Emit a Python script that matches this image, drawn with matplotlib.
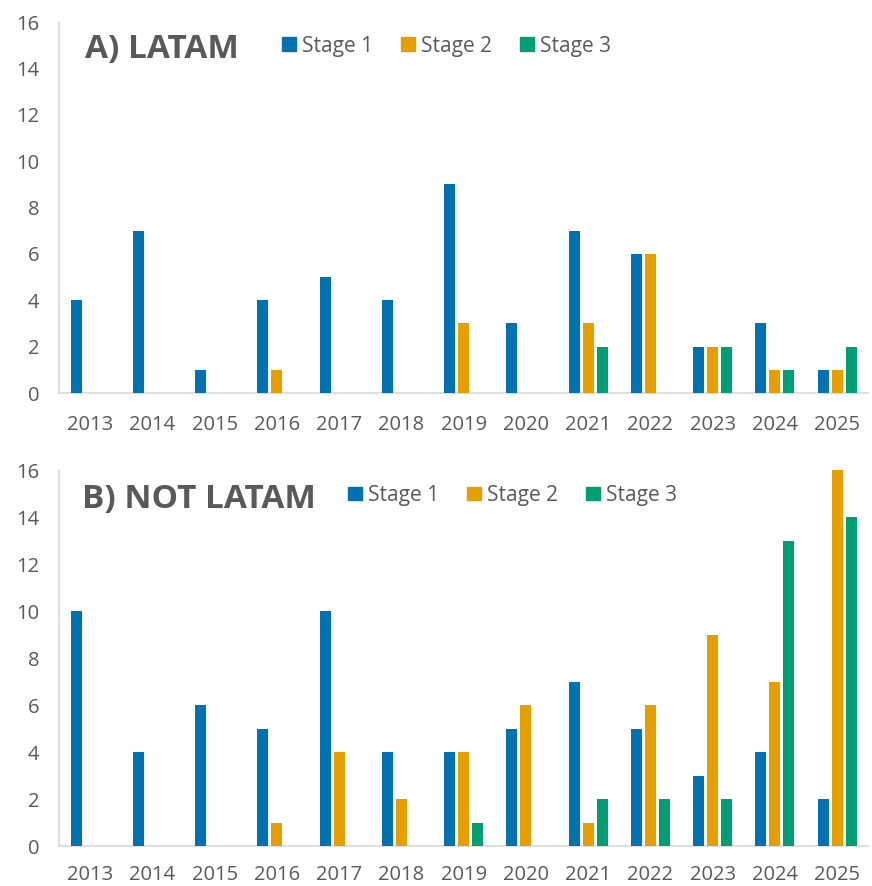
import numpy as np
import matplotlib.pyplot as plt
from matplotlib.patches import Patch

years = [str(y) for y in range(2013, 2026)]
stages = ["Stage 1", "Stage 2", "Stage 3"]
colors = ["#0072B2", "#E69F00", "#009E73"]

latam_s1 = [4, 7, 1, 4, 5, 4, 9, 3, 7, 6, 2, 3, 1]
latam_s2 = [0, 0, 0, 1, 0, 0, 3, 0, 3, 6, 2, 1, 1]
latam_s3 = [0, 0, 0, 0, 0, 0, 0, 0, 2, 0, 2, 1, 2]

other_s1 = [10, 4, 6, 5, 10, 4, 4, 5, 7, 5, 3, 4, 2]
other_s2 = [0, 0, 0, 1, 4, 2, 4, 6, 1, 6, 9, 7, 16]
other_s3 = [0, 0, 0, 0, 0, 0, 1, 0, 2, 2, 2, 13, 14]

plt.rcParams['font.family'] = ['Open Sans', 'DejaVu Sans']
grey = "#595959"
axcol = "#d9d9d9"

fig = plt.figure(figsize=(8.72, 8.86), dpi=100)
ax1 = fig.add_axes([0.0677, 0.5564, 0.928, 0.4187])
ax2 = fig.add_axes([0.0677, 0.0451, 0.928, 0.4244])

index = np.arange(len(years))
bar_width = 0.177
step = 0.225


def draw(ax, series, title, title_xy, leg_xy, xpad):
    for i, (vals, c) in enumerate(zip(series, colors)):
        ax.bar(index + (i - 1) * step, vals, bar_width, color=c, zorder=3)
    ax.set_xlim(-0.5, len(years) - 0.5)
    ax.set_ylim(0, 16)
    ax.set_yticks(range(0, 17, 2))
    ax.set_xticks(index)
    ax.set_xticklabels(years)
    for s in ["top", "right"]:
        ax.spines[s].set_visible(False)
    for s in ["left", "bottom"]:
        ax.spines[s].set_color(axcol)
        ax.spines[s].set_linewidth(1.2)
    ax.tick_params(axis="both", length=0, labelsize=14.5, labelcolor=grey)
    ax.tick_params(axis="x", pad=xpad)
    ax.tick_params(axis="y", pad=14)
    fig.text(title_xy[0], title_xy[1], title, fontsize=24, fontweight="bold",
             color=grey, va="center", ha="left")
    handles = [Patch(color=c, label=s) for c, s in zip(colors, stages)]
    fig.legend(handles=handles, ncol=3, loc="center left",
               bbox_to_anchor=leg_xy, frameon=False, fontsize=15,
               labelcolor=grey, handlelength=0.65, handleheight=0.65,
               handletextpad=0.3, columnspacing=1.35, borderaxespad=0)


draw(ax1, [latam_s1, latam_s2, latam_s3], "A) LATAM", (0.097, 0.944), (0.314, 0.948), 15.5)
draw(ax2, [other_s1, other_s2, other_s3], "B) NOT LATAM", (0.094, 0.436), (0.390, 0.441), 13.5)

fig.savefig("out.png", dpi=100)
